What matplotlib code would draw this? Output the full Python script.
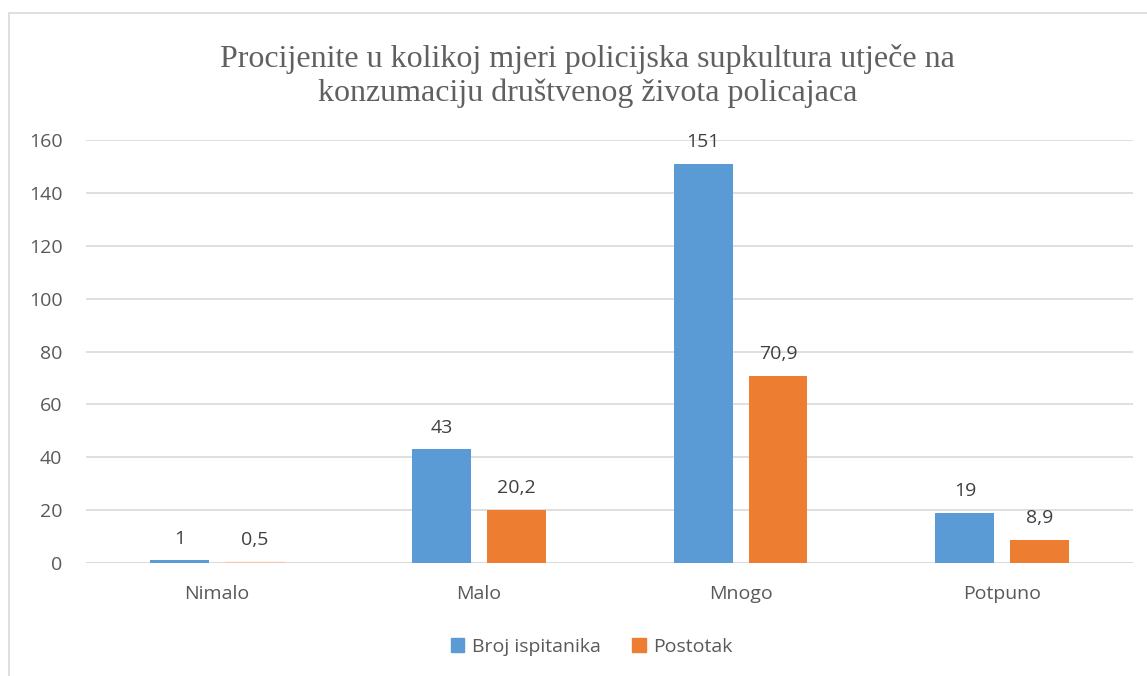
import matplotlib.pyplot as plt
import numpy as np
from matplotlib.patches import Rectangle, Patch

categories = ['Nimalo', 'Malo', 'Mnogo', 'Potpuno']
broj = [1, 43, 151, 19]
postotak = [0.5, 20.2, 70.9, 8.9]
broj_labels = ['1', '43', '151', '19']
postotak_labels = ['0,5', '20,2', '70,9', '8,9']

blue = '#5B9BD5'
orange = '#ED7D31'
text_gray = '#595959'

plt.rcParams['font.family'] = ['Open Sans', 'DejaVu Sans']

fig = plt.figure(figsize=(11.47, 6.76), dpi=100)
ax = fig.add_axes([0.075, 0.167, 0.913, 0.626])

# outer chart frame
fig.patches.append(Rectangle((9 / 1147, -0.05), 1.1, 1 - 13 / 676 + 0.05,
                             transform=fig.transFigure, fill=False,
                             edgecolor='#D9D9D9', linewidth=1.2))

x = np.arange(len(categories))
w = 0.225
off = 0.143
b1 = ax.bar(x - off, broj, w, color=blue)
b2 = ax.bar(x + off, postotak, w, color=orange)
# light tint on the tiny Nimalo orange bar, as in the original
b2[0].set_color('#F4C7AE')

for rect, lab in zip(b1, broj_labels):
    ax.annotate(lab, (rect.get_x() + rect.get_width() / 2, rect.get_height()),
                xytext=(0, 9), textcoords='offset points', ha='center', va='bottom',
                fontsize=14, color='#404040')
for rect, lab in zip(b2, postotak_labels):
    ax.annotate(lab, (rect.get_x() + rect.get_width() / 2, rect.get_height()),
                xytext=(0, 9), textcoords='offset points', ha='center', va='bottom',
                fontsize=14, color='#404040')

ax.set_xlim(-0.5, 3.5)
ax.set_ylim(0, 160)
ax.set_yticks(range(0, 161, 20))
ax.set_xticks(x)
ax.set_xticklabels(categories)
ax.tick_params(axis='both', length=0, labelsize=14, colors=text_gray)
ax.tick_params(axis='x', pad=16)
ax.tick_params(axis='y', pad=17)
ax.grid(axis='y', color='#D9D9D9', linewidth=1.2)
ax.set_axisbelow(True)
for s in ax.spines.values():
    s.set_visible(False)
ax.axhline(0, color='#D9D9D9', linewidth=1.2, zorder=0)

fig.suptitle('Procijenite u kolikoj mjeri policijska supkultura utječe na\n'
             'konzumaciju društvenog života policajaca',
             x=0.512, y=0.935, fontsize=23, color='#606060', family='Liberation Serif',
             linespacing=1.2)

handles = [Patch(color=blue, label='Broj ispitanika'),
           Patch(color=orange, label='Postotak')]
fig.legend(handles=handles, loc='center', bbox_to_anchor=(0.516, 0.043), ncol=2,
           frameon=False, fontsize=14, handlelength=0.7, handleheight=0.7,
           columnspacing=1.6, handletextpad=0.4, labelcolor=text_gray)

fig.savefig('out.png', dpi=100)
